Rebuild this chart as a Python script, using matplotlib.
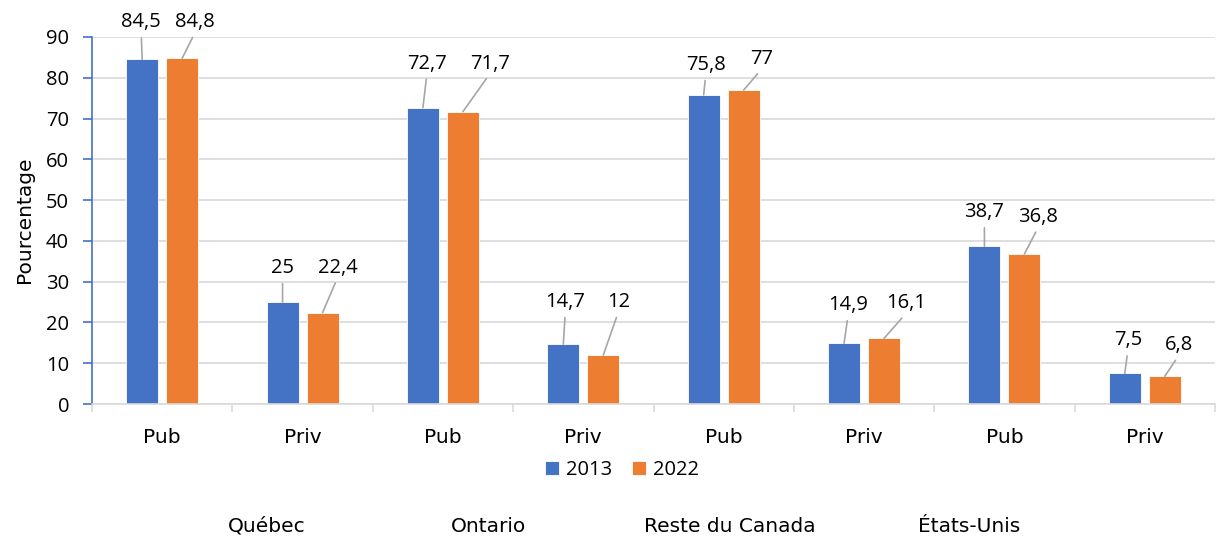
import matplotlib
matplotlib.use("Agg")
import matplotlib.pyplot as plt
import numpy as np

NUM_FONT = ['Open Sans', 'DejaVu Sans']
TXT_FONT = ['DejaVu Sans']
plt.rcParams['font.family'] = NUM_FONT

categories = ["Pub", "Priv", "Pub", "Priv", "Pub", "Priv", "Pub", "Priv"]
regions = ["Québec", "Ontario", "Reste du Canada", "États-Unis"]
series_names = ["2013", "2022"]
values_2013 = [84.5, 25, 72.7, 14.7, 75.8, 14.9, 38.7, 7.5]
values_2022 = [84.8, 22.4, 71.7, 12, 77, 16.1, 36.8, 6.8]
y_ticks = [0, 10, 20, 30, 40, 50, 60, 70, 80, 90]

# label offsets (pixels) from bar top centre, as placed in the original
off_2013 = [(-1, -37), (0, -34), (4, -44), (2, -42), (2, -30), (4, -38), (0, -34), (3, -33)]
off_2022 = [(13, -36), (15, -45), (27, -48), (15, -53), (18, -31), (22, -35), (14, -37), (14, -31)]

BLUE = "#4472C4"
ORANGE = "#ED7D31"
GRID = "#D9D9D9"
FS = 14.5

fig = plt.figure(figsize=(12.2, 5.39), dpi=100)
ax = fig.add_axes([92/1220, 1 - 404/539, (1215-92)/1220, (404-37)/539])

x = np.arange(len(categories))
w = 0.228
d = 0.1425
b1 = ax.bar(x - d, values_2013, w, color=BLUE, edgecolor="white", linewidth=0.6, label=series_names[0], zorder=3)
b2 = ax.bar(x + d, values_2022, w, color=ORANGE, edgecolor="white", linewidth=0.6, label=series_names[1], zorder=3)

ax.set_xlim(-0.5, len(categories) - 0.5)
ax.set_ylim(0, 90)
ax.set_yticks(y_ticks)
ax.set_yticklabels([str(t) for t in y_ticks], fontsize=FS)
ax.yaxis.grid(True, color=GRID, linewidth=1.2, zorder=0)
ax.set_axisbelow(True)

for s in ["top", "right"]:
    ax.spines[s].set_visible(False)
ax.spines["left"].set_color(BLUE)
ax.spines["left"].set_linewidth(1.2)
ax.spines["bottom"].set_color(GRID)
ax.spines["bottom"].set_linewidth(1.2)
ax.spines["bottom"].set_zorder(4)
ax.tick_params(axis="y", colors=BLUE, length=6.5, width=1.2, labelcolor="black", pad=10)

ax.set_xticks(x)
ax.set_xticklabels(categories, fontsize=FS, family=TXT_FONT)
ax.tick_params(axis="x", which="major", length=0, pad=17)
ax.set_xticks(np.arange(len(categories) + 1) - 0.5, minor=True)
ax.tick_params(axis="x", which="minor", length=6, width=1.2, color=GRID)

ax.set_ylabel("Pourcentage", fontsize=FS, family=TXT_FONT, va="center")
ax.yaxis.set_label_coords(24/1220, (539 - 220)/539, transform=fig.transFigure)

def fmt(v):
    return ("%g" % v).replace(".", ",")

px = 72 / 100.0
for xs, vals, offs in [(x - d, values_2013, off_2013), (x + d, values_2022, off_2022)]:
    for xi, v, (dx, dy) in zip(xs, vals, offs):
        ax.annotate(fmt(v), xy=(xi, v), xytext=(dx * px, -dy * px), textcoords="offset points",
                    ha="center", va="center", fontsize=FS, zorder=5,
                    arrowprops=dict(arrowstyle="-", color="#A6A6A6", lw=1.2, shrinkA=2, shrinkB=0,
                                    relpos=(0.5, 0.0)))

leg = fig.legend(handles=[b1, b2], labels=series_names, loc="center", bbox_to_anchor=(622/1220, 1 - 470/539),
                 ncol=2, frameon=False, fontsize=FS, handlelength=0.7, handleheight=0.7,
                 handletextpad=0.35, columnspacing=1.0)

region_x = [267, 489, 730, 969]
for rx, name in zip(region_x, regions):
    fig.text(rx / 1220, 1 - 526/539, name, ha="center", va="center", fontsize=FS, family=TXT_FONT)

fig.savefig("out.png", dpi=100)
